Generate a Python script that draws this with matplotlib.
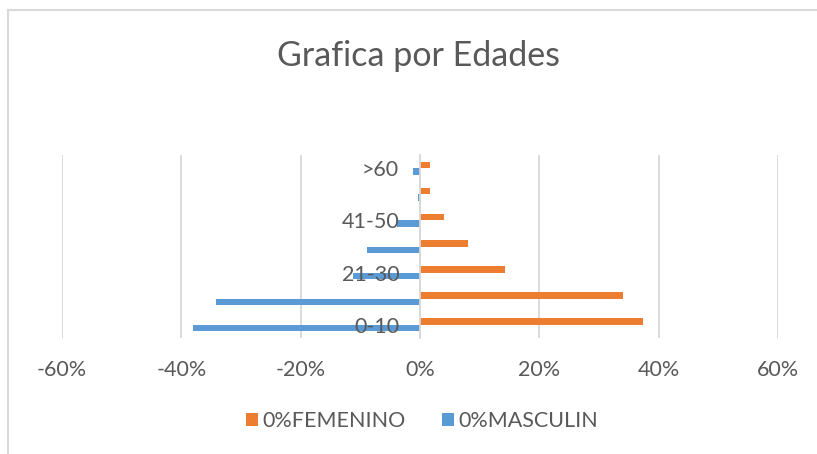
import numpy as np
import matplotlib.pyplot as plt
from matplotlib.lines import Line2D

# grupos de edad (de abajo hacia arriba)
edades = ['0-10', '11-20', '21-30', '31-40', '41-50', '51-60', '>60']
femenino = [37.3, 34.0, 14.2, 8.0, 4.1, 1.6, 1.6]   # %
masculino = [38.1, 34.2, 11.2, 8.9, 3.9, 0.3, 1.1]  # % (se dibuja negativo)
xticks = [-60, -40, -20, 0, 20, 40, 60]

gris = '#595959'
plt.rcParams['font.family'] = ['Lato', 'DejaVu Sans']

fig = plt.figure(figsize=(8.17, 4.54), dpi=100)
ax = fig.add_axes([62 / 817, 1 - 338 / 454, 716 / 817, 183 / 454])

y = np.arange(len(edades))
h = 0.25
ax.barh(y + h / 2, femenino, height=h, color='#ED7D31', label='0%FEMENINO', zorder=3)
ax.barh(y - h / 2, -np.array(masculino), height=h, color='#5B9BD5', label='0%MASCULIN', zorder=3)

ax.set_xlim(-60, 60)
ax.set_ylim(-0.5, len(edades) - 0.5)
ax.set_xticks(xticks)
ax.set_xticklabels([f'{v}%' for v in xticks])
ax.set_yticks(y[::2])
ax.set_yticklabels(edades[::2])
ax.grid(axis='x', color='#D9D9D9', lw=1.3, zorder=0)

for s in ['top', 'right', 'bottom']:
    ax.spines[s].set_visible(False)
ax.spines['left'].set_position(('data', 0))
ax.spines['left'].set_color('#D9D9D9')
ax.spines['left'].set_linewidth(1.3)
ax.spines['left'].set_zorder(4)

ax.tick_params(axis='both', length=0, labelsize=15.5, colors=gris)
ax.tick_params(axis='x', pad=16)
ax.tick_params(axis='y', pad=15)
# etiquetas de edad encima de las barras
ax.yaxis.set_zorder(5)

fig.text(0.512, 1 - 56 / 454, 'Grafica por Edades', ha='center', va='center',
         fontsize=24.5, color=gris)

ax.legend(loc='center', bbox_to_anchor=(0.517, 1 - 421 / 454), bbox_transform=fig.transFigure,
          ncol=2, frameon=False, fontsize=15.5, labelcolor=gris, handlelength=0.55,
          handleheight=0.55, handletextpad=0.2, columnspacing=1.7)

# borde del grafico (solo se ve arriba y a la izquierda)
fig.add_artist(Line2D([8 / 817, 1], [1 - 9.5 / 454] * 2, color='#D9D9D9', lw=1.5))
fig.add_artist(Line2D([8 / 817] * 2, [0, 1 - 9.5 / 454], color='#D9D9D9', lw=1.5))

fig.savefig('out.png', dpi=100, facecolor='white')
